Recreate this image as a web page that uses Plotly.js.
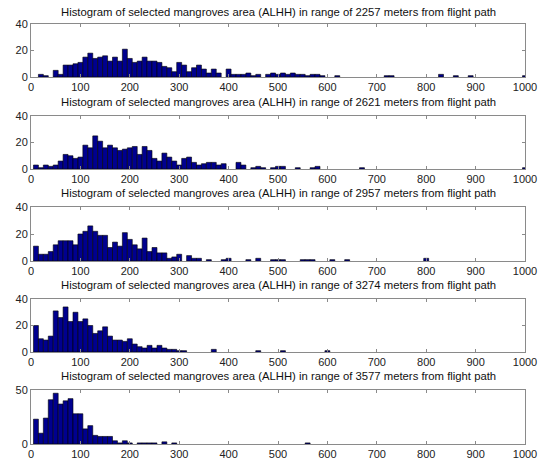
<!DOCTYPE html>
<html>
<head>
<meta charset="utf-8">
<script src="https://cdn.plot.ly/plotly-3.0.1.min.js"></script>
<style>html,body{margin:0;padding:0;background:#fff;}#chart{width:547px;height:465px;}</style>
</head>
<body>
<div id="chart"></div>
<script>
// Panel titles (range in meters)
const ranges = [2257, 2621, 2957, 3274, 3577];

// Panel 1 (2257 m): bin centers and counts
const centers1 = [20,30,50,60,70,80,90,100,110,120,130,140,150,160,170,180,190,200,210,220,230,240,250,260,270,280,290,300,310,320,330,340,350,360,370,380,400,410,420,430,440,450,460,480,490,500,510,520,530,540,550,560,570,580,590,620,720,730,830,860,890,1000];
const counts1  = [2,1,5,2,9,9,10,11,15,18,14,15,16,12,15,12,21,14,11,12,15,12,12,11,8,7,4,11,9,4,7,9,6,3,6,3,6,2,2,2,3,1,2,2,3,2,3,2,3,2,2,1,2,2,1,1,1,1,2,1,1,1];

// Panel 2 (2621 m)
const centers2 = [10,20,30,40,50,60,70,80,90,100,110,120,130,140,150,160,170,180,190,200,210,220,230,240,250,260,270,280,290,300,310,320,330,340,350,360,370,380,390,420,430,450,460,470,490,500,510,540,570,580,670,1000];
const counts2  = [3,1,3,2,3,6,11,10,8,9,18,16,25,21,16,18,16,14,15,16,17,11,17,14,8,6,12,9,6,3,8,9,5,3,4,5,5,3,4,5,3,1,2,1,1,2,2,1,1,2,1,1];

// Panel 3 (2957 m)
const centers3 = [10,20,30,40,50,60,70,80,90,100,110,120,130,140,150,160,170,180,190,200,210,220,230,240,250,260,270,280,290,300,320,330,340,360,390,400,440,460,490,500,510,550,560,570,610,640,800];
const counts3  = [11,5,5,7,12,15,15,15,12,20,22,26,22,19,19,10,14,11,21,16,12,9,17,7,10,6,6,2,3,5,4,2,2,1,1,2,1,2,1,1,1,1,1,1,1,1,2];

// Panel 4 (3274 m)
const centers4 = [10,20,30,40,50,60,70,80,90,100,110,120,130,140,150,160,170,180,190,200,210,220,230,240,250,260,270,280,290,300,310,370,460,510,600];
const counts4  = [20,10,9,12,31,26,34,23,30,23,25,20,14,16,19,12,9,9,8,10,6,4,3,5,3,5,3,2,2,1,1,2,1,1,1];

// Panel 5 (3577 m)
const centers5 = [10,20,30,40,50,60,70,80,90,100,110,120,130,140,150,160,170,180,190,200,220,230,240,250,270,290,560];
const counts5  = [23,10,24,41,47,37,40,42,28,28,14,17,8,7,7,7,3,1,3,1,1,1,1,1,2,1,1];

const xTicks = [0,100,200,300,400,500,600,700,800,900,1000];
const yTicks = [[0,20,40],[0,20,40],[0,20,40],[0,20,40],[0,50]];
const yMax = [40,40,40,40,50];

const centers = [centers1, centers2, centers3, centers4, centers5];
const counts = [counts1, counts2, counts3, counts4, counts5];

// layout geometry (pixel rows of each plot box, top/bottom)
const H = 465;
const boxes = [[24,77],[116,169],[207,261],[299,352],[390,444]];
const titleY = [12,102,193,285,376];

const traces = [];
const layout = {
  width: 547, height: 465,
  margin: {l: 31, r: 22, t: 0, b: 0},
  paper_bgcolor: '#fff', plot_bgcolor: '#fff',
  showlegend: false,
  font: {family: 'Liberation Sans, Arial, sans-serif', size: 11, color: '#222'},
  annotations: [],
  bargap: 0
};

for (let i = 0; i < 5; i++) {
  const n = i === 0 ? '' : String(i + 1);
  traces.push({
    type: 'bar',
    x: centers[i], y: counts[i],
    width: 10,
    xaxis: 'x' + n, yaxis: 'y' + n,
    marker: {color: '#00008f', line: {color: '#000', width: 0.6}},
    hoverinfo: 'x+y'
  });
  const common = {
    showline: true, mirror: 'ticks', linecolor: '#8a8a8a', linewidth: 1,
    ticks: 'inside', ticklen: 3, tickcolor: '#8a8a8a',
    showgrid: false, zeroline: false,
    tickfont: {size: 11, color: '#222'}
  };
  layout['xaxis' + n] = Object.assign({}, common, {
    anchor: 'y' + n, domain: [0, 1], range: [0, 1000],
    tickmode: 'array', tickvals: xTicks, ticktext: xTicks.map(String)
  });
  layout['yaxis' + n] = Object.assign({}, common, {
    anchor: 'x' + n,
    domain: [1 - boxes[i][1] / H, 1 - boxes[i][0] / H],
    range: [0, yMax[i]],
    tickmode: 'array', tickvals: yTicks[i], ticktext: yTicks[i].map(String)
  });
  layout.annotations.push({
    text: 'Histogram of selected mangroves area (ALHH) in range of ' + ranges[i] + ' meters from flight path',
    xref: 'paper', yref: 'paper', x: 0.5, y: 1 - titleY[i] / H,
    xanchor: 'center', yanchor: 'middle', showarrow: false,
    font: {size: 11.3, color: '#111'}
  });
}

Plotly.newPlot('chart', traces, layout, {displayModeBar: false, staticPlot: true});
</script>
</body>
</html>
